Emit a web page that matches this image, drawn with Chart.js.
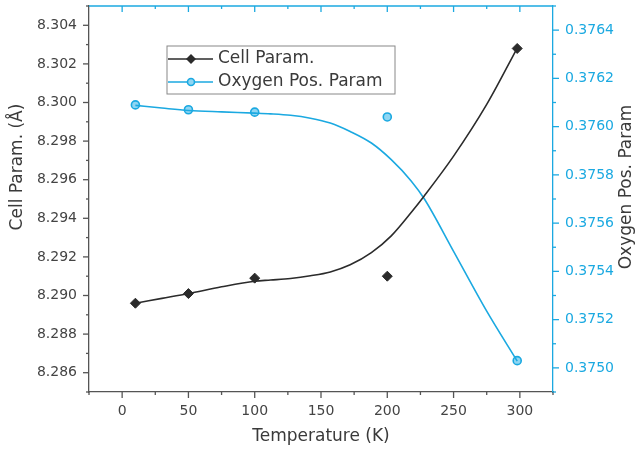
<!DOCTYPE html>
<html>
<head>
<meta charset="utf-8">
<script src="https://cdn.jsdelivr.net/npm/chart.js@4.4.1/dist/chart.umd.min.js"></script>
<style>
  body { margin: 0; background: #fff; }
  #wrap { width: 636px; height: 453px; position: relative; }
</style>
</head>
<body>
<div id="wrap"><canvas id="chartId"></canvas></div>
<script>
// measured points
const temps = [10, 50, 100, 200, 298];
const cellParam = [8.2896, 8.2901, 8.2909, 8.2910, 8.3028];
const oxygenParam = [0.37609, 0.37607, 0.37606, 0.37604, 0.37503];

// fit curves
const fitTemps = [10, 30, 50, 75, 100, 112, 127, 142, 157, 172, 188, 203, 218, 228, 250, 275, 298];
const cellFit = [8.2896, 8.28985, 8.2901, 8.29045, 8.29074, 8.29080, 8.29088, 8.29102, 8.29122, 8.29159, 8.29222, 8.29309, 8.29430, 8.29517, 8.29722, 8.29990, 8.30282];
const oxygenFit = [0.376088, 0.376077, 0.376067, 0.376061, 0.376056, 0.376053, 0.376047, 0.376035, 0.376015, 0.375980, 0.375932, 0.375863, 0.375775, 0.375700, 0.375483, 0.375235, 0.375028];

const seriesNames = ['Cell Param.', 'Oxygen Pos. Param'];
const axisTitles = ['Temperature (K)', 'Cell Param. (Å)', 'Oxygen Pos. Param'];

const BLACK = '#2b2b2b';
const BLUE = '#1ba9e1';
const AXIS = '#555555';
const FONT = "'DejaVu Sans', sans-serif";

function toPoints(xs, ys) {
  return xs.map((x, i) => ({ x: x, y: ys[i] }));
}

// ticks, top border, axis titles, legend
const decorPlugin = {
  id: 'decor',
  afterDraw(chart) {
    const ctx = chart.ctx;
    const area = chart.chartArea;
    const sx = chart.scales.x, sy = chart.scales.y, sy2 = chart.scales.y2;
    ctx.save();
    ctx.lineWidth = 1.3;

    // top border line
    ctx.strokeStyle = BLUE;
    ctx.beginPath();
    ctx.moveTo(area.left, area.top);
    ctx.lineTo(area.right, area.top);
    ctx.stroke();

    sx.ticks.forEach(t => {
      const px = sx.getPixelForValue(t.value);
      const major = Math.round(t.value / 25) % 2 === 0;
      const len = major ? 6 : 3;
      ctx.strokeStyle = AXIS;
      ctx.beginPath();
      ctx.moveTo(px, area.bottom);
      ctx.lineTo(px, area.bottom + len);
      ctx.stroke();
      if (px > area.left + 2 && px < area.right - 2) {
        ctx.strokeStyle = BLUE;
        ctx.beginPath();
        ctx.moveTo(px, area.top);
        ctx.lineTo(px, area.top + len);
        ctx.stroke();
      }
    });
    ctx.strokeStyle = AXIS;
    sy.ticks.forEach(t => {
      const py = sy.getPixelForValue(t.value);
      const major = Math.round(t.value * 1000) % 2 === 0;
      const len = major ? 6 : 3;
      ctx.beginPath();
      ctx.moveTo(area.left - len, py);
      ctx.lineTo(area.left, py);
      ctx.stroke();
    });
    ctx.strokeStyle = BLUE;
    sy2.ticks.forEach(t => {
      const py = sy2.getPixelForValue(t.value);
      const major = Math.round(t.value * 10000) % 2 === 0;
      const len = major ? 6 : 3;
      ctx.beginPath();
      ctx.moveTo(area.right, py);
      ctx.lineTo(area.right + len, py);
      ctx.stroke();
    });

    // axis titles
    ctx.fillStyle = '#3a3a3a';
    ctx.font = '17px ' + FONT;
    ctx.textAlign = 'center';
    ctx.textBaseline = 'middle';
    ctx.fillText(axisTitles[0], (area.left + area.right) / 2, 437);
    ctx.save();
    ctx.translate(18, 167);
    ctx.rotate(-Math.PI / 2);
    ctx.fillText(axisTitles[1], 0, 0);
    ctx.restore();
    ctx.save();
    ctx.translate(627, 187);
    ctx.rotate(-Math.PI / 2);
    ctx.fillText(axisTitles[2], 0, 0);
    ctx.restore();

    // legend box
    const lx = area.left + 78, ly = area.top + 40;
    ctx.strokeStyle = '#888';
    ctx.lineWidth = 1;
    ctx.strokeRect(lx, ly, 228, 48);
    const rows = [ly + 13, ly + 36];
    const colors = [BLACK, BLUE];
    ctx.textAlign = 'left';
    rows.forEach((ry, i) => {
      ctx.strokeStyle = colors[i];
      ctx.lineWidth = 1.6;
      ctx.beginPath();
      ctx.moveTo(lx + 1, ry);
      ctx.lineTo(lx + 46, ry);
      ctx.stroke();
      const mx = lx + 24;
      if (i === 0) {
        ctx.fillStyle = BLACK;
        ctx.beginPath();
        ctx.moveTo(mx, ry - 5);
        ctx.lineTo(mx + 5, ry);
        ctx.lineTo(mx, ry + 5);
        ctx.lineTo(mx - 5, ry);
        ctx.closePath();
        ctx.fill();
      } else {
        ctx.fillStyle = '#8fd6f3';
        ctx.beginPath();
        ctx.arc(mx, ry, 3.5, 0, Math.PI * 2);
        ctx.fill();
        ctx.stroke();
      }
      ctx.fillStyle = '#3a3a3a';
      ctx.font = '17px ' + FONT;
      ctx.fillText(seriesNames[i], lx + 51, ry);
    });
    ctx.restore();
  }
};

var chrt = document.getElementById('chartId').getContext('2d');

let chartConfig = {
  type: 'scatter',
  data: {
    datasets: [
      {
        label: seriesNames[0] + ' fit',
        data: toPoints(fitTemps, cellFit),
        yAxisID: 'y',
        showLine: true,
        borderColor: BLACK,
        borderWidth: 1.6,
        pointRadius: 0,
        cubicInterpolationMode: 'monotone'
      },
      {
        label: seriesNames[0],
        data: toPoints(temps, cellParam),
        yAxisID: 'y',
        pointStyle: 'rectRot',
        pointRadius: 5,
        backgroundColor: BLACK,
        borderColor: BLACK,
        borderWidth: 1
      },
      {
        label: seriesNames[1] + ' fit',
        data: toPoints(fitTemps, oxygenFit),
        yAxisID: 'y2',
        showLine: true,
        borderColor: BLUE,
        borderWidth: 1.6,
        pointRadius: 0,
        cubicInterpolationMode: 'monotone'
      },
      {
        label: seriesNames[1],
        data: toPoints(temps, oxygenParam),
        yAxisID: 'y2',
        pointStyle: 'circle',
        pointRadius: 4,
        backgroundColor: '#8fd6f3',
        borderColor: BLUE,
        borderWidth: 1.6
      }
    ]
  },
  options: {
    responsive: true,
    maintainAspectRatio: false,
    animation: false,
    layout: { padding: { top: 5 } },
    plugins: {
      legend: { display: false },
      tooltip: { enabled: false }
    },
    scales: {
      x: {
        type: 'linear',
        position: 'bottom',
        min: -25,
        max: 325,
        grid: { display: false, drawTicks: false },
        border: { color: AXIS, width: 1.3 },
        ticks: {
          stepSize: 25,
          autoSkip: false,
          maxRotation: 0,
          padding: 11,
          color: '#444',
          font: { family: FONT, size: 14 },
          callback: v => (Math.round(v / 25) % 2 === 0 ? String(v) : '')
        },
        afterFit: s => { s.height = 61; s.paddingLeft = 0; s.paddingRight = 0; }
      },
      y: {
        type: 'linear',
        position: 'left',
        min: 8.285,
        max: 8.305,
        grid: { display: false, drawTicks: false },
        border: { color: AXIS, width: 1.3 },
        ticks: {
          stepSize: 0.001,
          autoSkip: false,
          padding: 12,
          color: '#444',
          font: { family: FONT, size: 14 },
          callback: v => (Math.round(v * 1000) % 2 === 0 ? v.toFixed(3) : '')
        },
        afterFit: s => { s.width = 89; s.paddingTop = 0; s.paddingBottom = 0; }
      },
      y2: {
        type: 'linear',
        position: 'right',
        min: 0.3749,
        max: 0.3765,
        grid: { display: false, drawTicks: false },
        border: { color: BLUE, width: 1.3 },
        ticks: {
          stepSize: 0.0001,
          autoSkip: false,
          padding: 12,
          color: BLUE,
          font: { family: FONT, size: 14 },
          callback: v => (Math.round(v * 10000) % 2 === 0 ? v.toFixed(4) : '')
        },
        afterFit: s => { s.width = 83; s.paddingTop = 0; s.paddingBottom = 0; }
      }
    }
  },
  plugins: [decorPlugin]
};
window.doughnutChart = new Chart(chrt, chartConfig);
</script>
</body>
</html>
